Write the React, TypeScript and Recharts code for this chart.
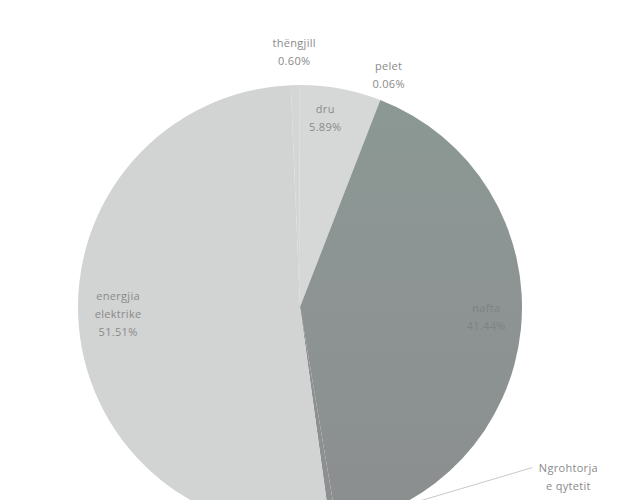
import { PieChart, Pie, Cell } from "recharts";

// ── Data ───────────────────────────────────────────────────────────

const NAMES = ["dru", "nafta", "Ngrohtorja e qytetit", "energjia elektrike", "thëngjill", "pelet"];
const VALUES = [5.89, 41.44, 0.5, 51.51, 0.6, 0.06];
const LABEL_LINES = [
  ["dru", "5.89%"],
  ["nafta", "41.44%"],
  ["Ngrohtorja", "e qytetit"],
  ["energjia", "elektrike", "51.51%"],
  ["thëngjill", "0.60%"],
  ["pelet", "0.06%"],
];

const FILLS = ["#d6d7d7", "url(#darkFill)", "#8d8f90", "#d2d3d3", "#d4d5d5", "#d4d5d5"];

const data = NAMES.map((name, i) => ({ name, value: VALUES[i], idx: i }));

// per-slice label placement: radius factor and angle nudge (deg)
const LABEL_PLACE: Record<number, { r: number; da: number }> = {
  0: { r: 0.86, da: 3 },
  1: { r: 0.84, da: 3 },
  2: { r: 1.43, da: 49 },
  3: { r: 0.82, da: -3 },
  4: { r: 1.15, da: 0 },
  5: { r: 1.12, da: -21 },
};

const RAD = Math.PI / 180;

// eslint-disable-next-line @typescript-eslint/no-explicit-any
function renderLabel(props: any) {
  const { cx, cy, midAngle, outerRadius, index } = props;
  const place = LABEL_PLACE[index];
  const a = (midAngle + place.da) * RAD;
  const r = outerRadius * place.r;
  const x = cx + r * Math.cos(a);
  const y = cy - r * Math.sin(a);
  const lines = LABEL_LINES[index];
  const color = index === 1 ? "#7d8283" : "#8a8a8a";
  const h = 18;
  const y0 = y - ((lines.length - 1) * h) / 2;
  const pieces = [];
  if (index === 2) {
    // leader line from slice edge to label
    const ea = midAngle * RAD;
    const ex = cx + outerRadius * Math.cos(ea);
    const ey = cy - outerRadius * Math.sin(ea);
    pieces.push(
      <line key="l" x1={ex} y1={ey} x2={x - 36} y2={y0} stroke="#c9c9c9" strokeWidth={1} />
    );
  }
  lines.forEach((t, i) =>
    pieces.push(
      <text key={i} x={x} y={y0 + i * h} textAnchor="middle" dominantBaseline="central" fill={color} fontSize={11} fontFamily="'Open Sans', sans-serif" style={{ letterSpacing: 0.3 }}>
        {t}
      </text>
    )
  );
  return <g>{pieces}</g>;
}

export default function App() {
  return (
    <div style={{ position: "absolute", left: 0, top: 0, width: 623, height: 500, background: "#ffffff" }}>
      <PieChart width={623} height={500} margin={{ top: 0, right: 0, bottom: 0, left: 0 }}>
        <defs>
          <linearGradient id="darkFill" x1="0" y1="0" x2="0" y2="1">
            <stop offset="0%" stopColor="#8b9894" />
            <stop offset="45%" stopColor="#8d9493" />
            <stop offset="100%" stopColor="#8b8e8f" />
          </linearGradient>
        </defs>
        <Pie
          data={data}
          dataKey="value"
          nameKey="name"
          cx={300}
          cy={307}
          outerRadius={222}
          startAngle={90}
          endAngle={-270}
          stroke="none"
          label={renderLabel}
          labelLine={false}
          isAnimationActive={false}
        >
          {data.map((d, i) => (
            <Cell key={d.name} fill={FILLS[i]} />
          ))}
        </Pie>
      </PieChart>
    </div>
  );
}
